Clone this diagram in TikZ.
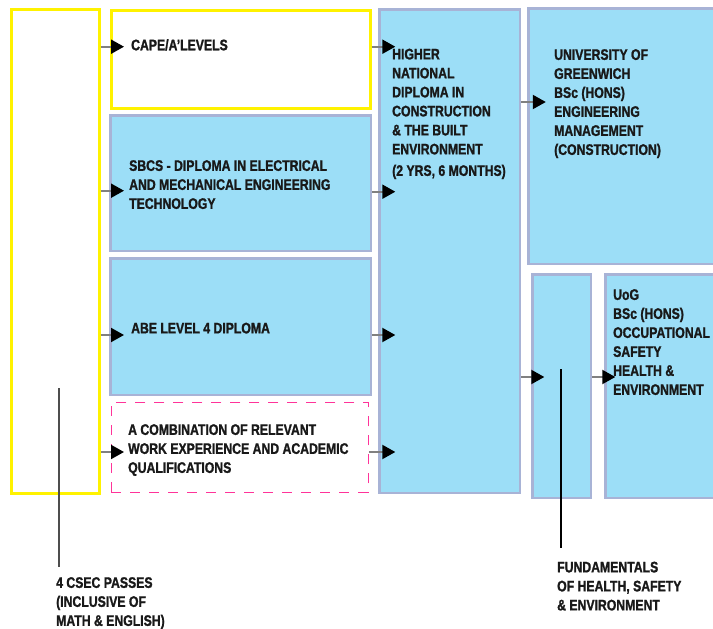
\documentclass[tikz,border=0pt]{standalone}
\usepackage{fontspec}
\setmainfont{Liberation Sans}[FakeStretch=0.8, BoldFeatures={FakeBold=1.3}]
\usetikzlibrary{arrows.meta}
\definecolor{boxblue}{HTML}{9CDEF7}
\definecolor{boxline}{HTML}{A8B3D6}
\definecolor{ylw}{HTML}{FFF200}
\definecolor{pinkdash}{HTML}{FF3399}
\definecolor{stub}{HTML}{808080}
\definecolor{leadgray}{HTML}{4D4D4D}
\tikzset{
  bluebox/.style={draw=boxline, fill=boxblue, line width=2.5pt, anchor=north west, inner sep=0pt},
  ylwbox/.style={draw=ylw, fill=white, line width=3pt, anchor=north west, inner sep=0pt},
  dashbox/.style={draw=pinkdash, fill=white, line width=1.5pt, dash pattern=on 10pt off 9pt, anchor=north west, inner sep=0pt},
  lbl/.style={anchor=north west, inner sep=0pt, align=left, text=black!90,
     font=\bfseries\fontsize{15.3}{19}\selectfont},
  conn/.style={draw=stub, line width=2pt, -{Triangle[length=13pt,width=14pt,color=black]}},
  lead/.style={draw=leadgray, line width=1.5pt},
  leadb/.style={draw=black, line width=1.2pt},
}
\begin{document}
\begin{tikzpicture}[x=1pt,y=-1pt]
\useasboundingbox (0,0) rectangle (713,629);
% boxes
\node[ylwbox, minimum width=88pt, minimum height=484pt] (left) at (9.5,7.5) {};
\node[ylwbox, minimum width=259pt, minimum height=98pt] (cape) at (109.5,8.5) {};
\node[bluebox, minimum width=260.5pt, minimum height=135.5pt] (sbcs) at (109.3,114.3) {};
\node[bluebox, minimum width=260.5pt, minimum height=136.5pt] (abe) at (109.3,257.3) {};
\node[dashbox, minimum width=257pt, minimum height=90pt] (comb) at (110.5,401.5) {};
\node[bluebox, minimum width=140.5pt, minimum height=483.5pt] (hnd) at (378.3,8.3) {};
\node[bluebox, minimum width=200pt, minimum height=255.5pt] (uog) at (527.3,7.3) {};
\node[bluebox, minimum width=58.5pt, minimum height=223.5pt] (fund) at (531.3,273.3) {};
\node[bluebox, minimum width=130pt, minimum height=223.5pt] (osh) at (604.3,273.3) {};
% labels
\node[lbl] (capet) at (131,39) {CAPE/A’LEVELS};
\node[lbl] (sbcst) at (129,160) {SBCS - DIPLOMA IN ELECTRICAL\\AND MECHANICAL ENGINEERING\\TECHNOLOGY};
\node[lbl] (abet) at (131,322.5) {ABE LEVEL 4 DIPLOMA};
\node[lbl] (combt) at (128,424) {A COMBINATION OF RELEVANT\\WORK EXPERIENCE AND ACADEMIC\\QUALIFICATIONS};
\node[lbl] (hndt) at (392,48.5) {HIGHER\\NATIONAL\\DIPLOMA IN\\CONSTRUCTION\\\& THE BUILT\\ENVIRONMENT\\[2.5pt](2 YRS, 6 MONTHS)};
\node[lbl] (uogt) at (554,49) {UNIVERSITY OF\\GREENWICH\\BSc (HONS)\\ENGINEERING\\MANAGEMENT\\(CONSTRUCTION)};
\node[lbl] (osht) at (613,289) {UoG\\BSc (HONS)\\OCCUPATIONAL\\SAFETY\\HEALTH \&\\ENVIRONMENT};
\node[lbl] (fundt) at (557,561.5) {FUNDAMENTALS\\OF HEALTH, SAFETY\\\& ENVIRONMENT};
\node[lbl] (csec) at (56,577) {4 CSEC PASSES\\(INCLUSIVE OF\\MATH \& ENGLISH)};
% connectors
\draw[conn] (left.east |- 0,46.7) -- ([xshift=14.5pt]cape.west |- 0,46.7);
\draw[conn] (left.east |- 0,190.7) -- ([xshift=14.7pt]sbcs.west |- 0,190.7);
\draw[conn] (left.east |- 0,335) -- ([xshift=14.7pt]abe.west |- 0,335);
\draw[conn] (left.east |- 0,452) -- ([xshift=13.5pt]comb.west |- 0,452);
\draw[conn] (cape.east |- 0,46.7) -- ([xshift=17pt]hnd.west |- 0,46.7);
\draw[conn] (sbcs.east |- 0,191.7) -- ([xshift=17pt]hnd.west |- 0,191.7);
\draw[conn] (abe.east |- 0,335) -- ([xshift=17pt]hnd.west |- 0,335);
\draw[conn] (comb.east |- 0,452) -- ([xshift=17pt]hnd.west |- 0,452);
\draw[conn] (hnd.east |- 0,102) -- ([xshift=18.5pt]uog.west |- 0,102);
\draw[conn] (hnd.east |- 0,377) -- ([xshift=13pt]fund.west |- 0,377);
\draw[conn] (fund.east |- 0,377) -- ([xshift=11pt]osh.west |- 0,377);
% leader lines
\coordinate (csectop) at (59,388);
\draw[lead] (csectop) -- ([yshift=10pt]csec.north -| csectop);
\coordinate (fundtop) at (561,369);
\draw[leadb] (fundtop) -- ([yshift=13.5pt]fundt.north -| fundtop);
\end{tikzpicture}
\end{document}
